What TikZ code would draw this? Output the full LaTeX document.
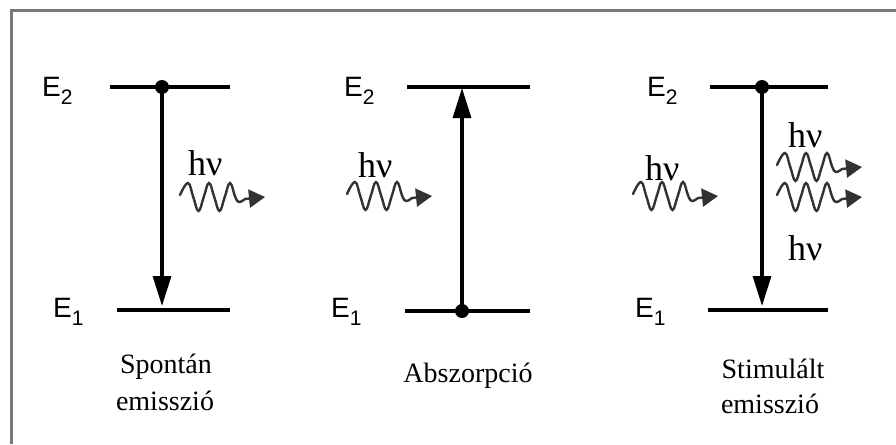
\documentclass[tikz,border=0pt]{standalone}
\usepackage{fontspec}
\setmainfont{Liberation Serif}
\newfontfamily\arialfont{Liberation Sans}
\usetikzlibrary{arrows.meta}
\definecolor{frame}{RGB}{120,120,120}
\definecolor{wavec}{RGB}{50,50,50}
\newcommand\elev[1]{{\arialfont\fontsize{28}{28}\selectfont E\raisebox{-8pt}{\fontsize{21}{21}\selectfont #1}}}

\begin{document}
\begin{tikzpicture}[x=1pt, y=-1pt,
  level/.style={line width=3.5pt},
  trans/.style={line width=3.2pt, -{Triangle[length=30pt,width=18pt]}},
  dot/.style={circle, fill=black, inner sep=0pt, minimum size=14pt},
  elab/.style={anchor=base west, inner sep=0pt},
  hv/.style={anchor=base west, inner sep=0pt, font=\fontsize{36}{36}\selectfont},
  capt/.style={anchor=base, inner sep=0pt, font=\fontsize{28}{28}\selectfont},
  photon/.pic={
    \draw[line width=2.4pt, wavec, line cap=round, -{Triangle[length=16pt,width=18pt]}]
      plot[smooth, tension=0.7] coordinates {(0,-2) (8,-14) (13.25,0) (18.5,14) (23.75,0)
        (29,-14) (34.25,0) (39.5,14) (44.75,0) (50,-14) (55.25,0) (59,5) (65,2)} -- (85,0);
  }]
\useasboundingbox (0,0) rectangle (896,444);

% frame
\draw[frame, line width=3pt] (11,444) -- (11,11) -- (896,11);

% Spontan emisszio
\node[elab] (spE2) at (42,96) {\elev{2}};
\node[elab] (spE1) at (53,317) {\elev{1}};
\draw[level] (110,87) -- (230,87);
\draw[level] (117,310) -- (230,310);
\node[dot] (spdot) at (162,87) {};
\coordinate (spend) at (162,306);
\draw[trans] (spdot.center) -- (spend);
\node[hv] (sphv) at (188,175) {hν};
\pic at (180,197) {photon};
\node[capt] (spcap1) at (166,373) {Spontán};
\node[capt] (spcap2) at (165,410) {emisszió};

% Abszorpcio
\node[elab] (abE2) at (344,96) {\elev{2}};
\node[elab] (abE1) at (331,317) {\elev{1}};
\draw[level] (407,87) -- (530,87);
\draw[level] (405,311) -- (530,311);
\node[dot] (abdot) at (462,311) {};
\coordinate (abend) at (462,88);
\draw[trans] (abdot.center) -- (abend);
\node[hv] (abhv) at (358,177) {hν};
\pic at (347,196) {photon};
\node[capt] (abcap) at (468,382) {Abszorpció};

% Stimulalt emisszio
\node[elab] (stE2) at (647,96) {\elev{2}};
\node[elab] (stE1) at (635,317) {\elev{1}};
\draw[level] (710,87) -- (828,87);
\draw[level] (708,310) -- (828,310);
\node[dot] (stdot) at (762,87) {};
\coordinate (stend) at (762,306);
\draw[trans] (stdot.center) -- (stend);
\node[hv] (sthvin) at (645,180) {hν};
\pic at (633,196) {photon};
\node[hv] (sthvup) at (788,147) {hν};
\pic at (777,167) {photon};
\pic at (777,197) {photon};
\node[hv] (sthvlo) at (788,260) {hν};
\node[capt] (stcap1) at (773,378) {Stimulált};
\node[capt] (stcap2) at (770,413) {emisszió};
\end{tikzpicture}
\end{document}
